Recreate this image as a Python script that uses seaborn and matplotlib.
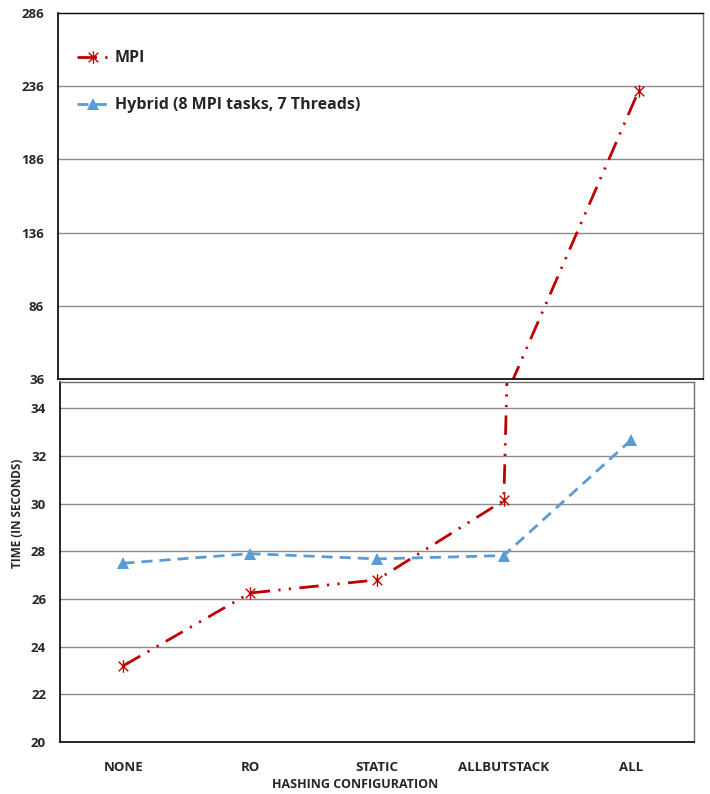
import matplotlib
matplotlib.use("Agg")
import matplotlib.pyplot as plt
from matplotlib.path import Path
import seaborn as sns

sns.set_theme(style="white")
plt.rcParams["font.family"] = ["Open Sans", "DejaVu Sans"]

categories = ["NONE", "RO", "STATIC", "ALLBUTSTACK", "ALL"]
mpi_times = [23.2, 26.25, 26.8, 30.13, 232.6]
hybrid_times = [27.5, 27.9, 27.68, 27.82, 32.65]
upper_ticks = [36, 86, 136, 186, 236, 286]
lower_ticks = [20, 22, 24, 26, 28, 30, 32, 34]

positions = list(range(len(categories)))

MPI_COLOR = "#C00000"
HYB_COLOR = "#5B9BD5"
GRID_COLOR = "#8C8C8C"

# asterisk marker: an X with a vertical stroke through it
star = Path(
    [(-1, -1), (1, 1), (-1, 1), (1, -1), (0, -1.3), (0, 1.3)],
    [Path.MOVETO, Path.LINETO, Path.MOVETO, Path.LINETO, Path.MOVETO, Path.LINETO],
)

fig = plt.figure(figsize=(7.1, 7.94), dpi=100)
W, H = 710, 794


def box(left, top, right, bottom):
    return [left / W, 1 - bottom / H, (right - left) / W, (bottom - top) / H]


ax_top = fig.add_axes(box(58, 13, 703, 379))
ax_bot = fig.add_axes(box(60, 382, 694, 742))
ax_bot.set_zorder(3)


def draw_series(ax):
    sns.lineplot(x=positions, y=mpi_times, ax=ax, color=MPI_COLOR,
                 linestyle=(0, (7, 3, 0.8, 3, 0.8, 3)), linewidth=2.0,
                 marker=star, markersize=9, markeredgewidth=1.0,
                 markeredgecolor=MPI_COLOR, label="MPI", legend=False)
    sns.lineplot(x=positions, y=hybrid_times, ax=ax, color=HYB_COLOR,
                 linestyle=(0, (4, 2.5)), linewidth=2.0,
                 marker="^", markersize=8, markeredgewidth=0,
                 label="Hybrid (8 MPI tasks, 7 Threads)", legend=False)


draw_series(ax_top)
draw_series(ax_bot)

TICK_FONT = {"fontsize": 9.5, "fontweight": "bold"}

for ax in (ax_top, ax_bot):
    ax.set_xlim(-0.5, len(categories) - 0.5)
    ax.set_facecolor("white")
    ax.tick_params(axis="both", length=0)
    ax.set_xlabel("")
    ax.set_ylabel("")
    for side in ("left", "bottom"):
        ax.spines[side].set_color("black")
        ax.spines[side].set_linewidth(1.2)
    for side in ("right", "top"):
        ax.spines[side].set_color("#6E6E6E")
        ax.spines[side].set_linewidth(1.0)

# upper panel: large run times
ax_top.set_ylim(upper_ticks[0], upper_ticks[-1])
ax_top.set_yticks(upper_ticks)
ax_top.set_yticklabels([str(t) for t in upper_ticks], **TICK_FONT)
ax_top.tick_params(axis="y", pad=10)
ax_top.set_xticks([])
ax_top.spines["top"].set_color("black")
for t in upper_ticks[1:-1]:
    ax_top.axhline(t, color=GRID_COLOR, linewidth=1.0, zorder=0)

# lower panel: close-up of small run times
ax_bot.set_ylim(20, 35.1)
ax_bot.set_yticks(lower_ticks)
ax_bot.set_yticklabels([str(t) for t in lower_ticks], **TICK_FONT)
ax_bot.tick_params(axis="y", pad=10)
ax_bot.set_xticks(positions)
ax_bot.set_xticklabels(categories, fontsize=9.5, fontweight="bold")
ax_bot.tick_params(axis="x", pad=14)
for t in lower_ticks[1:]:
    ax_bot.axhline(t, color=GRID_COLOR, linewidth=1.0, zorder=0)

leg = ax_top.legend(loc="upper left", bbox_to_anchor=(0.0, 0.95), frameon=False,
                    prop={"size": 11.5, "weight": "bold"}, handlelength=2.0,
                    handletextpad=0.35, labelspacing=1.93, borderaxespad=0.8)

fig.text(18 / W, 1 - 513 / H, "TIME (IN SECONDS)", rotation=90, ha="center",
         va="center", fontsize=8.5, fontweight="bold")
fig.text(355 / W, 1 - 785 / H, "HASHING CONFIGURATION", ha="center",
         va="center", fontsize=9, fontweight="bold")

fig.savefig("out.png", dpi=100, facecolor="white")
